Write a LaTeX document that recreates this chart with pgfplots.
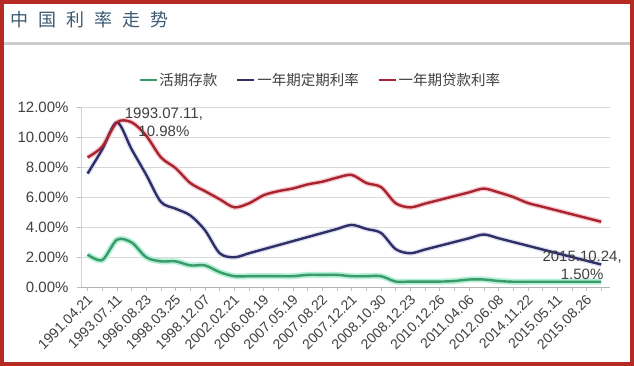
\documentclass[border=0pt]{standalone}
\usepackage{fontspec}
\setmainfont{Liberation Sans}
\newfontfamily\cjk{Noto Sans CJK SC}
\usepackage{pgfplots}
\usepackage{pgfplotstable}
\pgfplotsset{compat=1.18}
\definecolor{cgreen}{HTML}{3A9A6A}
\definecolor{cnavy}{HTML}{2E2F66}
\definecolor{cred}{HTML}{A8242E}
\definecolor{glowgreen}{HTML}{B4EFD6}
\definecolor{glowred}{HTML}{F6BCC4}
\definecolor{glownavy}{HTML}{CCCCEA}
\definecolor{framec}{HTML}{B52A22}
\definecolor{titlec}{HTML}{3C5A73}
\definecolor{txt}{HTML}{404040}
\pgfplotstableread{
idx demand dep loan
0 2.16 7.56 8.64
1 1.80 9.18 9.36
2 3.15 10.98 10.98
3 2.97 9.18 10.98
4 1.98 7.47 10.08
5 1.71 5.67 8.64
6 1.71 5.22 7.92
7 1.44 4.77 6.93
8 1.44 3.78 6.39
9 0.99 2.25 5.85
10 0.72 1.98 5.31
11 0.72 2.25 5.58
12 0.72 2.52 6.12
13 0.72 2.79 6.39
14 0.72 3.06 6.57
15 0.81 3.33 6.84
16 0.81 3.60 7.02
17 0.81 3.87 7.29
18 0.72 4.14 7.47
19 0.72 3.87 6.93
20 0.72 3.60 6.66
21 0.36 2.52 5.58
22 0.36 2.25 5.31
23 0.36 2.50 5.56
24 0.36 2.75 5.81
25 0.40 3.00 6.06
26 0.50 3.25 6.31
27 0.50 3.50 6.56
28 0.40 3.25 6.31
29 0.35 3.00 6.00
30 0.35 2.75 5.60
31 0.35 2.50 5.35
32 0.35 2.25 5.10
33 0.35 2.00 4.85
34 0.35 1.75 4.60
35 0.35 1.50 4.35
}\data
\begin{document}
\begin{tikzpicture}
\useasboundingbox (0,0) rectangle (634pt,366pt);
\fill[white] (0,0) rectangle (634pt,366pt);
\draw[line width=3pt, gray!40] (3pt,322.5pt) -- (631pt,322.5pt);
\node[anchor=west, inner sep=0pt, text=titlec, font=\cjk\fontsize{18}{20}\selectfont] at (10pt,346pt)
  {中\hspace{10pt}国\hspace{10pt}利\hspace{10pt}率\hspace{10pt}走\hspace{10pt}势};
\begin{axis}[
  at={(81pt,79pt)}, anchor=south west,
  scale only axis, width=529pt, height=180pt,
  xmin=-0.45, xmax=35.6, ymin=0, ymax=12,
  clip=false,
  axis x line*=bottom, axis y line*=left,
  x axis line style={gray!60, line width=0.8pt},
  y axis line style={gray!35, line width=0.8pt},
  ytick={0,2,...,12},
  ymajorgrids, grid style={gray!30, line width=0.8pt},
  tick align=outside, major tick length=4pt,
  tick style={gray!50, line width=0.6pt},
  /pgf/number format/assume math mode=true,
  yticklabel={\pgfmathprintnumber[fixed,fixed zerofill,precision=2]{\tick}\%},
  yticklabel style={font=\fontsize{15}{18}\selectfont, text=txt, xshift=-5pt},
  xtick={0,...,35},
  xticklabels={1991.04.21,,1993.07.11,,1996.08.23,,1998.03.25,,1998.12.07,,2002.02.21,,2006.08.19,,2007.05.19,,2007.08.22,,2007.12.21,,2008.10.30,,2008.12.23,,2010.12.26,,2011.04.06,,2012.06.08,,2014.11.22,,2015.05.11,,2015.08.26,},
  xticklabel style={font=\fontsize{14}{16}\selectfont, text=txt, rotate=45, anchor=north east, inner sep=1pt, xshift=-1.5pt},
  legend style={at={(0.102,1.15)}, anchor=west, draw=none, fill=none,
    font=\cjk\fontsize{14.5}{16}\selectfont, text=txt,
    /tikz/every even column/.append style={column sep=17pt},
    nodes={inner sep=1.5pt}},
  legend columns=3,
  legend image code/.code={\draw[#1, line width=2.8pt] (0pt,0pt) -- (17pt,0pt);},
]
\addplot[glowgreen, line width=6pt, smooth, forget plot] table[x=idx,y=demand]{\data};
\addplot[glownavy, line width=5pt, smooth, forget plot, opacity=0.6] table[x=idx,y=dep]{\data};
\addplot[glowred, line width=5pt, smooth, forget plot, opacity=0.8] table[x=idx,y=loan]{\data};
\addplot[cgreen, line width=2.4pt, smooth] table[x=idx,y=demand]{\data};
\addlegendentry{活期存款}
\addplot[cnavy, line width=2.4pt, smooth] table[x=idx,y=dep]{\data};
\addlegendentry{一年期定期利率}
\addplot[cred, line width=2.4pt, smooth] table[x=idx,y=loan]{\data};
\addlegendentry{一年期贷款利率}
\node[align=center, inner sep=0pt, text=txt, font=\fontsize{15}{18}\selectfont] at (axis cs:5.2,11.0) {1993.07.11,\\10.98\%};
\node[align=center, inner sep=0pt, text=txt, font=\fontsize{15}{18}\selectfont] at (axis cs:33.7,1.47) {2015.10.24,\\1.50\%};
\end{axis}
\draw[framec, line width=4pt] (2pt,2pt) rectangle (632pt,364pt);
\end{tikzpicture}
\end{document}
